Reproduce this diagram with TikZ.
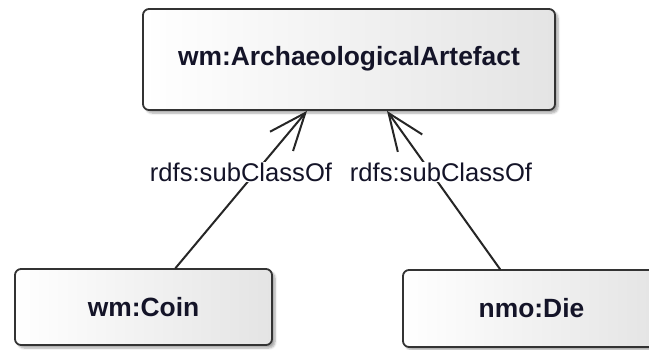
\documentclass[tikz,border=0pt]{standalone}
\usepackage{fontspec}
\setmainfont{Liberation Sans}
\usetikzlibrary{arrows.meta,shadows.blur}

\definecolor{boxline}{HTML}{333333}
\definecolor{boxright}{HTML}{E4E4E4}
\definecolor{inktext}{HTML}{141428}

\tikzset{
  classbox/.style={
    draw=boxline, line width=1.8pt, rounded corners=6pt,
    left color=white, right color=boxright,
    blur shadow={shadow xshift=3pt, shadow yshift=-3pt, shadow blur steps=6,
                 shadow blur extra rounding=2pt, shadow opacity=35},
    inner sep=0pt, font=\fontsize{26.4}{30}\selectfont\bfseries,
    text=inktext
  },
  relname/.style={fill=white, inner sep=1pt, text=inktext,
    font=\fontsize{25.6}{29}\selectfont},
  subclass/.style={draw=black!85, line width=2pt, line cap=round,
    -{Straight Barb[length=37pt, width=30pt, line width=2pt]}}
}

\begin{document}
\begin{tikzpicture}[x=1pt, y=-1pt]
  \useasboundingbox (0,0) rectangle (649,349);
  \clip (0,0) rectangle (649,349);

  % classes
  \node[classbox, minimum width=412pt, minimum height=101pt] (artefact) at (349,59.5)
    {\raisebox{7pt}{wm:ArchaeologicalArtefact}};
  \node[classbox, minimum width=257pt, minimum height=76pt] (coin) at (143.5,307)
    {wm:Coin};
  \node[classbox, minimum width=257pt, minimum height=77pt] (die) at (531.5,308.5)
    {nmo:Die};

  % attachment points on the class boxes
  \coordinate (coinTop) at ([xshift=32pt]coin.north);
  \coordinate (dieTop) at ([xshift=-31.5pt]die.north);
  \coordinate (artL) at ([xshift=-42pt]artefact.south);
  \coordinate (artR) at ([xshift=38pt]artefact.south);

  % subclass relations
  \draw[subclass] (coinTop) -- (artL);
  \draw[subclass] (dieTop) -- (artR);

  % relation names
  \node[relname] (relL) at (241,172) {rdfs:subClassOf};
  \node[relname] (relR) at (441,172) {rdfs:subClassOf};
\end{tikzpicture}
\end{document}
